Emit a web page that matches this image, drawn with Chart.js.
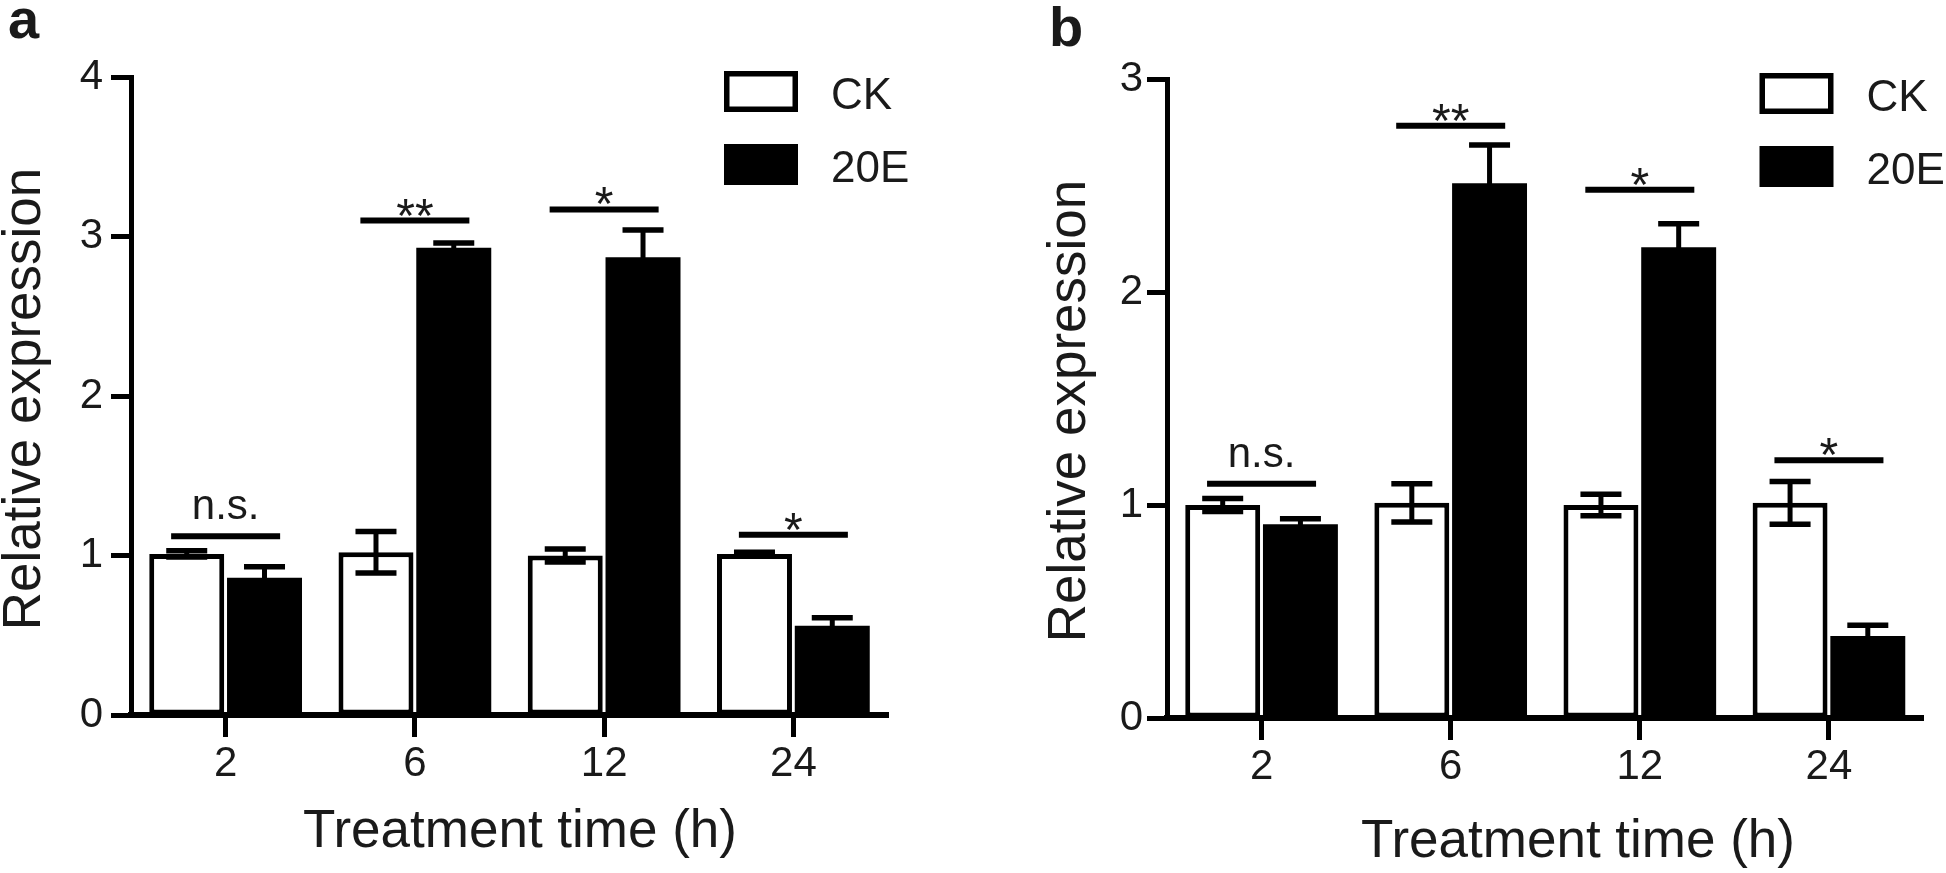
<!DOCTYPE html>
<html>
<head>
<meta charset="utf-8">
<script src="https://cdn.jsdelivr.net/npm/chart.js@4.4.1/dist/chart.umd.min.js"></script>
<style>
  html, body { margin: 0; padding: 0; background: #fff; }
  #wrap { position: relative; width: 1946px; height: 873px; }
  canvas { position: absolute; top: 0; }
  #chartA { left: 0; }
  #chartB { left: 973px; }
</style>
</head>
<body>
<div id="wrap">
  <canvas id="chartA" width="973" height="873"></canvas>
  <canvas id="chartB" width="973" height="873"></canvas>
</div>
<script>
var hours = ['2', '6', '12', '24'];
var seriesNames = ['CK', '20E'];

// panel a
var ckA = [1.01, 1.02, 1.00, 1.01];
var ckErrA = [0.02, 0.13, 0.04, 0.01];
var e20A = [0.86, 2.93, 2.87, 0.56];
var e20ErrA = [0.07, 0.03, 0.17, 0.05];
var sigA = ['n.s.', '**', '*', '*'];
var sigLevelA = [1.12, 3.10, 3.17, 1.13];
var yTicksA = [0, 1, 2, 3, 4];

// panel b
var ckB = [1.00, 1.01, 1.00, 1.01];
var ckErrB = [0.03, 0.09, 0.05, 0.10];
var e20B = [0.91, 2.51, 2.21, 0.385];
var e20ErrB = [0.025, 0.18, 0.11, 0.05];
var sigB = ['n.s.', '**', '*', '*'];
var sigLevelB = [1.10, 2.78, 2.48, 1.21];
var yTicksB = [0, 1, 2, 3];

var FONT = 'Arial, "Liberation Sans", sans-serif';
var TEXT = '#1a1a1a';

// error bars, significance marks, legend, titles
function makeExtras(p) {
    return {
        id: 'extras',
        afterDatasetsDraw: function (chart) {
            var ctx = chart.ctx, xs = chart.scales.x, ys = chart.scales.y, area = chart.chartArea;
            ctx.save();
            ctx.strokeStyle = '#000';

            chart.data.datasets.forEach(function (ds, di) {
                chart.getDatasetMeta(di).data.forEach(function (bar, i) {
                    var v = ds.data[i], e = ds.errors[i];
                    var hi = ys.getPixelForValue(v + e), lo = ys.getPixelForValue(v - e);
                    ctx.lineWidth = 5;
                    ctx.beginPath();
                    ctx.moveTo(bar.x, hi); ctx.lineTo(bar.x, lo);
                    ctx.stroke();
                    ctx.lineWidth = 5.5;
                    ctx.beginPath();
                    ctx.moveTo(bar.x - 20.5, hi); ctx.lineTo(bar.x + 20.5, hi);
                    ctx.moveTo(bar.x - 20.5, lo); ctx.lineTo(bar.x + 20.5, lo);
                    ctx.stroke();
                });
            });

            ctx.lineWidth = 6;
            ctx.fillStyle = TEXT;
            ctx.textAlign = 'center';
            ctx.textBaseline = 'alphabetic';
            p.sig.forEach(function (mark, i) {
                var cx = xs.getPixelForValue(i), yy = ys.getPixelForValue(p.sigLevel[i]);
                ctx.beginPath();
                ctx.moveTo(cx - 54.5, yy); ctx.lineTo(cx + 54.5, yy);
                ctx.stroke();
                if (mark === 'n.s.') {
                    ctx.font = '42px ' + FONT;
                    ctx.fillText(mark, cx, yy - 17);
                } else {
                    ctx.font = '48px ' + FONT;
                    ctx.fillText(mark, cx, yy + 11);
                }
            });

            // legend
            var lx = area.right - 164, ly = area.top - 6;
            chart.data.datasets.forEach(function (ds, di) {
                var by = ly + di * 73;
                ctx.fillStyle = ds.backgroundColor;
                ctx.fillRect(lx, by, 74, 41);
                if (ds.borderWidth) {
                    ctx.lineWidth = 5.5;
                    ctx.strokeRect(lx + 2.75, by + 2.75, 74 - 5.5, 41 - 5.5);
                }
                ctx.fillStyle = TEXT;
                ctx.font = '44px ' + FONT;
                ctx.textAlign = 'left';
                ctx.fillText(ds.label, lx + 107, by + 38);
            });

            // axis titles
            ctx.fillStyle = TEXT;
            ctx.font = '53px ' + FONT;
            ctx.textAlign = 'center';
            ctx.fillText('Treatment time (h)', p.xTitle[0], p.xTitle[1]);
            ctx.save();
            ctx.translate(p.yTitle[0], p.yTitle[1]);
            ctx.rotate(-Math.PI / 2);
            ctx.fillText('Relative expression', 0, 0);
            ctx.restore();

            // panel letter
            ctx.font = 'bold 56px ' + FONT;
            ctx.textAlign = 'left';
            ctx.fillText(p.letter, p.letterPos[0], p.letterPos[1]);
            ctx.restore();
        }
    };
}

function drawPanel(id, p) {
    var canvas = document.getElementById(id);
    new Chart(canvas.getContext('2d'), {
        type: 'bar',
        data: {
            labels: hours,
            datasets: [{
                label: seriesNames[0],
                data: p.ck,
                errors: p.ckErr,
                backgroundColor: '#fff',
                borderColor: '#000',
                borderWidth: 5,
                borderSkipped: false,
                categoryPercentage: 0.822,
                barPercentage: 0.964
            }, {
                label: seriesNames[1],
                data: p.e20,
                errors: p.e20Err,
                backgroundColor: '#000',
                borderWidth: 0,
                categoryPercentage: 0.822,
                barPercentage: 0.964
            }]
        },
        options: {
            responsive: false,
            animation: false,
            devicePixelRatio: 1,
            layout: { padding: { left: p.padLeft, top: p.padTop, right: p.padRight, bottom: 0 } },
            plugins: { legend: { display: false }, tooltip: { enabled: false } },
            scales: {
                x: {
                    grid: { offset: false, drawOnChartArea: false, tickLength: 22, tickWidth: 5, tickColor: '#000' },
                    border: { color: '#000', width: 6 },
                    ticks: { color: TEXT, font: { family: FONT, size: 42 }, padding: 2, maxRotation: 0 },
                    afterFit: function (s) { s.height = p.xAxisHeight; }
                },
                y: {
                    min: 0,
                    max: p.yTicks[p.yTicks.length - 1],
                    afterBuildTicks: function (s) {
                        s.ticks = p.yTicks.map(function (v) { return { value: v }; });
                    },
                    grid: { drawOnChartArea: false, tickLength: 20, tickWidth: 5, tickColor: '#000' },
                    border: { color: '#000', width: 5 },
                    ticks: { color: TEXT, font: { family: FONT, size: 42 }, padding: p.yTickPad },
                    afterFit: function (s) { s.width = p.yAxisWidth; }
                }
            }
        },
        plugins: [makeExtras(p)]
    });
}

drawPanel('chartA', {
    ck: ckA, ckErr: ckErrA, e20: e20A, e20Err: e20ErrA,
    sig: sigA, sigLevel: sigLevelA, yTicks: yTicksA,
    padLeft: 0, yAxisWidth: 131, padTop: 77, padRight: 85, xAxisHeight: 158, yTickPad: 8,
    xTitle: [520, 847], yTitle: [40, 399], letter: 'a', letterPos: [8, 38]
});

drawPanel('chartB', {
    ck: ckB, ckErr: ckErrB, e20: e20B, e20Err: e20ErrB,
    sig: sigB, sigLevel: sigLevelB, yTicks: yTicksB,
    padLeft: 72, yAxisWidth: 122, padTop: 79, padRight: 22.5, xAxisHeight: 155, yTickPad: 4,
    xTitle: [605, 857], yTitle: [112, 411], letter: 'b', letterPos: [76, 46]
});
</script>
</body>
</html>
